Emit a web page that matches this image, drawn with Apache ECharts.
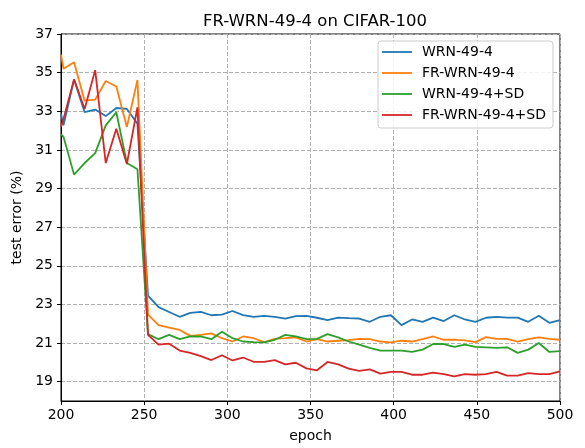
<!DOCTYPE html>
<html>
<head>
<meta charset="utf-8">
<script src="https://cdn.jsdelivr.net/npm/echarts@6/dist/echarts.min.js"></script>
<style>html,body{margin:0;padding:0;background:#fff;}#c{width:585px;height:448px;}</style>
</head>
<body>
<div id="c"></div>
<script>
const seriesNames = ['WRN-49-4', 'FR-WRN-49-4', 'WRN-49-4+SD', 'FR-WRN-49-4+SD'];
const epochs = [200, 201.5, 207.85, 214.2, 220.55, 226.9, 233.25, 239.6, 245.95, 252.3, 258.65, 265.0, 271.35, 277.7, 284.05, 290.4, 296.75, 303.1, 309.45, 315.8, 322.15, 328.5, 334.85, 341.2, 347.55, 353.9, 360.25, 366.6, 372.95, 379.3, 385.65, 392.0, 398.35, 404.7, 411.05, 417.4, 423.75, 430.1, 436.45, 442.8, 449.15, 455.5, 461.85, 468.2, 474.55, 480.9, 487.25, 493.6, 500];
const wrn = [32.87, 32.27, 34.65, 32.95, 33.09, 32.75, 33.17, 33.12, 32.36,
  23.46, 22.86, 22.61, 22.36, 22.56, 22.61, 22.44, 22.47, 22.66, 22.45,
  22.36, 22.41, 22.36, 22.27, 22.39, 22.41, 22.31, 22.19, 22.32, 22.29,
  22.27, 22.10, 22.36, 22.44, 21.93, 22.22, 22.10, 22.32, 22.14, 22.44,
  22.22, 22.10, 22.31, 22.36, 22.32, 22.32, 22.10, 22.41, 22.05, 22.19];
const frWrn = [35.93, 35.2, 35.54, 33.55, 33.6, 34.57, 34.28, 32.19, 34.62,
  22.47, 21.93, 21.8, 21.68, 21.37, 21.42, 21.5, 21.25, 21.08, 21.34,
  21.25, 21.05, 21.22, 21.25, 21.29, 21.08, 21.2, 21.08, 21.12, 21.15,
  21.22, 21.2, 21.08, 21.03, 21.12, 21.08, 21.2, 21.34, 21.17, 21.18,
  21.14, 21.05, 21.31, 21.22, 21.22, 21.08, 21.2, 21.29, 21.22, 21.17];
const wrnSd = [31.8, 31.68, 29.72, 30.32, 30.83, 32.27, 32.95, 30.32, 30.0,
  21.46, 21.2, 21.42, 21.2, 21.34, 21.34, 21.2, 21.59, 21.25, 21.08,
  21.05, 21.03, 21.17, 21.42, 21.34, 21.2, 21.22, 21.46, 21.29, 21.08,
  20.92, 20.75, 20.61, 20.61, 20.61, 20.54, 20.66, 20.95, 20.95, 20.8,
  20.92, 20.8, 20.78, 20.75, 20.78, 20.49, 20.66, 21.0, 20.54, 20.58];
const frWrnSd = [32.19, 32.6, 34.65, 33.12, 35.13, 30.32, 32.1, 30.27, 33.2,
  21.42, 20.92, 20.97, 20.61, 20.49, 20.32, 20.12, 20.37, 20.1, 20.25,
  20.03, 20.03, 20.12, 19.9, 19.98, 19.69, 19.59, 20.02, 19.9, 19.68,
  19.56, 19.64, 19.42, 19.51, 19.51, 19.36, 19.36, 19.47, 19.39, 19.27,
  19.39, 19.36, 19.39, 19.51, 19.31, 19.31, 19.44, 19.39, 19.39, 19.53];
const xTicks = [200, 250, 300, 350, 400, 450, 500];
const yTicks = [19, 21, 23, 25, 27, 29, 31, 33, 35, 37];
const colors = ['#1f77b4', '#ff7f0e', '#2ca02c', '#d62728'];

const allValues = [wrn, frWrn, wrnSd, frWrnSd];
const font = 'DejaVu Sans';
const chart = echarts.init(document.getElementById('c'), null, {renderer: 'canvas'});
const gridDash = {color: '#b0b0b0', width: 1, type: [4, 2]};
chart.setOption({
  animation: false,
  backgroundColor: '#fff',
  title: {
    text: 'FR-WRN-49-4 on CIFAR-100',
    left: 310, top: 8, textAlign: 'center',
    textStyle: {fontFamily: font, fontSize: 16.5, fontWeight: 'normal', color: '#000'}
  },
  legend: {
    orient: 'vertical', left: 378, top: 41,
    itemWidth: 30, itemHeight: 14, itemGap: 7,
    padding: [4, 7, 6, 4],
    backgroundColor: 'rgba(255,255,255,0.85)',
    borderColor: '#cccccc', borderWidth: 1, borderRadius: 3,
    textStyle: {fontFamily: font, fontSize: 14, color: '#000', padding: [0, 0, 0, 5]},
    data: seriesNames.map((n) => ({
      name: n,
      icon: 'path://M0,6.1L30,6.1L30,7.9L0,7.9Z'
    }))
  },
  grid: {left: 61, right: 25, top: 34, bottom: 41, show: true, borderColor: '#000', borderWidth: 1, backgroundColor: 'transparent'},
  xAxis: {
    type: 'value', min: 200, max: 500, interval: 50,
    name: 'epoch', nameLocation: 'middle', nameGap: 28,
    nameTextStyle: {fontFamily: font, fontSize: 14, color: '#000'},
    axisLine: {show: true, lineStyle: {color: '#000', width: 1}},
    axisTick: {show: true, length: 4, inside: false, lineStyle: {color: '#000'}, customValues: xTicks},
    axisLabel: {fontFamily: font, fontSize: 14, color: '#000', margin: 7, customValues: xTicks},
    splitLine: {show: true, lineStyle: gridDash}
  },
  yAxis: {
    type: 'value', min: 18, max: 37,
    name: 'test error (%)', nameLocation: 'middle', nameGap: 32, nameRotate: 90,
    nameTextStyle: {fontFamily: font, fontSize: 14, color: '#000'},
    axisLine: {show: true, lineStyle: {color: '#000', width: 1}},
    axisTick: {show: true, length: 4, inside: false, lineStyle: {color: '#000'}, customValues: yTicks},
    axisLabel: {fontFamily: font, fontSize: 14, color: '#000', margin: 8, customValues: yTicks},
    splitLine: {show: true, lineStyle: gridDash}
  },
  series: seriesNames.map((n, i) => ({
    name: n, type: 'line', symbol: 'none', showSymbol: false,
    color: colors[i],
    lineStyle: {color: colors[i], width: 1.8},
    data: epochs.map((e, j) => [e, allValues[i][j]]),
    z: 2 + i
  }))
});
</script>
</body>
</html>
